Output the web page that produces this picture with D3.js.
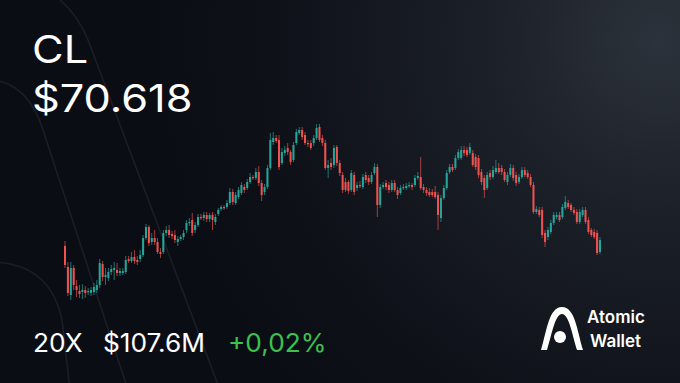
<!DOCTYPE html>
<html>
<head>
<meta charset="utf-8">
<script src="https://cdn.jsdelivr.net/npm/d3@7"></script>
<style>
  html, body { margin: 0; padding: 0; background: #0b0d14; }
  svg { display: block; }
</style>
</head>
<body>
<svg id="chart"></svg>
<script>
// CL daily candles
const opens = [
  70.4,68.3,65.5,68.2,66.4,65.9,65.8,66.0,65.8,65.7, 65.8,66.0,66.5,68.6,67.3,67.2,67.8,68.0,68.0,67.7,
  67.7,67.8,69.1,68.9,69.3,69.0,69.1,69.5,71.2,72.3, 70.8,71.2,70.8,69.8,69.8,71.7,72.0,71.6,71.5,70.8,
  71.1,71.3,72.0,72.7,73.0,72.0,72.5,73.3,73.2,73.5, 73.1,73.5,72.8,73.6,74.1,74.3,74.3,74.7,75.8,74.7,
  75.3,75.7,76.3,76.2,76.8,77.3,77.2,77.8,76.7,75.8, 76.3,78.2,80.8,81.2,81.0,78.7,79.7,80.2,79.8,79.0,
  80.7,81.7,82.0,81.5,80.7,80.7,80.7,81.2,82.3,81.2, 80.7,78.2,78.7,78.5,80.3,78.7,77.5,76.8,76.8,76.0,
  77.5,76.2,76.5,76.3,77.5,77.2,76.8,77.7,78.3,74.5, 76.3,76.7,76.5,76.0,76.7,76.0,75.7,76.2,76.2,76.4,
  76.5,76.5,77.2,77.3,76.3,76.0,75.8,75.8,75.8,75.5, 73.2,75.2,76.2,77.8,78.3,78.2,79.2,79.2,80.0,80.0,
  79.7,79.7,79.3,79.2,77.8,77.2,76.2,77.7,77.3,77.8, 78.2,78.2,77.8,76.8,77.5,78.2,77.5,76.8,77.3,78.0,
  77.7,77.3,76.5,73.8,74.0,74.0,71.7,71.3,71.8,72.7, 73.3,73.5,73.3,74.2,74.7,74.5,74.0,73.8,72.8,73.5,
  74.0,73.0,72.0,71.8,71.7,69.8];
const highs = [
  70.9,68.8,68.8,68.5,67.0,66.5,66.6,66.4,66.2,66.3, 66.7,67.0,69.1,68.9,68.2,68.2,68.5,68.8,68.7,68.2,
  68.2,69.4,69.4,69.8,70.0,69.4,70.0,71.5,72.6,72.5, 71.7,72.0,71.2,70.2,72.0,72.4,72.5,71.9,72.0,71.4,
  71.5,72.0,73.0,73.2,73.7,72.8,73.6,73.6,73.8,73.8, 73.7,73.8,73.6,74.2,74.5,74.5,75.0,76.2,76.1,75.8,
  76.3,76.8,76.6,77.1,77.7,77.5,78.2,78.4,77.0,76.6, 78.5,81.7,81.8,81.5,81.5,80.2,80.4,80.7,80.0,80.8,
  82.1,82.3,82.3,81.8,81.0,81.0,81.5,82.6,82.6,81.5, 81.0,79.0,79.2,80.5,80.5,79.0,77.8,77.2,77.0,78.0,
  77.8,76.8,76.9,77.6,77.8,77.5,77.8,78.7,78.6,76.6, 76.8,77.0,76.8,77.0,77.0,76.3,76.5,76.6,76.7,76.8,
  76.7,77.5,77.8,79.3,76.6,76.3,76.2,76.1,76.4,75.8, 75.5,76.5,78.0,78.6,78.6,79.5,80.1,80.4,80.4,80.3,
  80.7,80.0,79.6,79.5,78.1,77.5,77.8,78.0,78.4,79.0, 78.7,78.5,78.1,77.8,78.6,78.5,77.8,77.6,78.3,78.3,
  78.0,77.6,76.8,74.4,74.3,74.3,72.0,72.3,73.0,73.8, 73.8,73.8,74.6,75.4,75.0,74.7,74.3,74.1,74.1,74.3,
  74.3,73.3,72.2,72.1,72.0,71.3];
const lows = [
  68.2,65.4,65.0,66.0,65.3,65.2,65.1,65.2,65.5,65.4, 65.5,65.7,66.2,66.9,66.5,66.9,67.5,67.0,67.4,67.4,
  67.5,67.6,68.7,68.7,68.6,68.5,68.8,69.3,71.0,70.4, 70.5,70.5,69.6,69.2,69.6,71.4,71.2,71.1,70.7,70.4,
  70.9,71.0,71.7,72.4,71.4,71.7,72.3,73.0,72.9,72.8, 72.8,72.0,72.5,73.4,73.9,74.0,74.1,74.5,74.5,74.5,
  75.1,75.5,75.7,76.0,76.6,77.0,77.0,76.4,74.9,75.5, 76.1,78.0,80.5,80.7,78.0,78.5,79.4,79.5,78.5,78.8,
  80.5,81.5,81.0,80.5,80.3,80.0,80.4,81.0,80.8,80.4, 78.0,77.2,78.0,78.2,78.4,77.4,75.7,75.8,75.6,75.8,
  75.5,75.9,76.2,76.1,76.7,76.5,76.6,77.5,73.3,74.2, 76.1,76.0,75.7,75.8,75.8,75.1,75.5,76.0,76.0,76.2,
  76.0,76.3,77.0,76.0,75.7,75.4,75.3,75.3,75.1,72.0, 72.8,75.0,76.0,77.6,77.8,78.0,79.0,79.0,79.4,79.3,
  79.5,78.3,78.0,77.2,76.5,75.2,76.0,77.0,77.1,77.6, 77.6,77.5,76.8,76.5,77.3,76.9,76.4,76.6,77.1,77.3,
  77.1,76.3,73.6,73.6,73.3,71.2,70.3,71.0,71.6,72.5, 73.1,72.8,73.1,74.0,74.1,73.8,73.5,72.6,72.6,73.3,
  72.6,71.6,71.3,71.1,69.5,69.6];
const closes = [
  68.5,65.7,68.2,66.5,66.0,65.6,66.0,65.7,65.9,66.0, 66.3,66.5,68.7,67.3,67.5,67.8,68.1,68.2,67.7,67.9,
  67.9,69.0,68.9,69.3,68.9,68.8,69.5,71.2,72.3,70.7, 71.2,70.8,69.8,69.6,71.7,72.0,71.5,71.4,71.0,71.1,
  71.3,71.7,72.7,72.8,71.7,72.5,73.3,73.2,73.5,73.1, 73.5,73.0,73.3,74.0,74.3,74.2,74.7,75.8,74.8,75.5,
  76.0,76.5,76.0,76.8,77.3,77.2,77.8,76.7,75.5,76.3, 78.2,81.0,81.2,80.9,78.3,79.8,80.0,79.8,78.8,80.5,
  81.8,82.0,81.3,80.7,80.6,80.2,81.2,82.2,81.0,80.7, 78.2,78.5,78.3,80.2,78.7,77.7,76.0,76.0,75.9,77.7,
  75.8,76.5,76.4,77.3,77.0,76.8,77.5,78.3,74.5,76.3, 76.5,76.3,76.0,76.7,76.0,75.5,76.2,76.3,76.4,76.5,
  76.3,77.2,77.4,76.2,76.0,75.7,75.5,75.5,75.3,73.5, 75.2,76.2,77.7,78.3,78.0,79.2,79.8,80.0,79.7,79.5,
  80.3,78.5,78.3,77.5,76.8,76.0,77.5,77.3,78.0,78.2, 77.8,77.8,77.0,77.5,78.2,77.2,76.7,77.3,78.0,77.5,
  77.3,76.5,73.8,74.1,73.5,71.5,70.8,72.0,72.7,73.5, 73.5,73.0,74.3,74.8,74.3,74.0,73.7,72.8,73.8,74.0,
  72.8,71.8,71.5,71.3,69.7,71.0];

const ticker = 'CL'
const lastPrice = '$70.618'
const leverage = '20X'
const volume = '$107.6M'
const change = '+0,02%'

class CandleChart {
    constructor(_config) {
        this.config = {
            parentElement: _config.parentElement,
            containerWidth: _config.containerWidth || 680,
            containerHeight: _config.containerHeight || 383,
            plot: {left: 64, right: 601, top: 120, bottom: 310}
        }
        this.initVis()
    }

    initVis() {
        let vis = this;

        vis.svg = d3.select(vis.config.parentElement)
            .attr('width', vis.config.containerWidth)
            .attr('height', vis.config.containerHeight)

        const defs = vis.svg.append('defs')
        const glow = defs.append('radialGradient')
            .attr('id', 'glow')
            .attr('gradientUnits', 'userSpaceOnUse')
            .attr('cx', 660).attr('cy', 40).attr('r', 520)
        glow.append('stop').attr('offset', 0).attr('stop-color', '#2c323b')
        glow.append('stop').attr('offset', 0.35).attr('stop-color', '#1b1f27')
        glow.append('stop').attr('offset', 0.75).attr('stop-color', '#0e1118')
        glow.append('stop').attr('offset', 1).attr('stop-color', '#0b0d14')

        vis.svg.append('rect')
            .attr('width', vis.config.containerWidth)
            .attr('height', vis.config.containerHeight)
            .attr('fill', 'url(#glow)')

        // faint arcs of the big logo behind everything
        const arcs = [
            'M -20,80 Q 26,76 43,130 L 128,390',
            'M 30,-20 Q 72,0 88,40 L 220,390',
            'M -10,262 Q 50,262 62,320 L 70,390'
        ]
        vis.svg.append('g')
            .selectAll('path')
            .data(arcs)
            .join('path')
            .attr('d', d => d)
            .attr('fill', 'none')
            .attr('stroke', 'rgba(255,255,255,0.07)')
            .attr('stroke-width', 1.6)

        vis.chart = vis.svg.append('g')
    }

    updateVis() {
        let vis = this;
        const p = vis.config.plot

        vis.x = d3.scaleBand()
            .domain(d3.range(closes.length))
            .range([p.left, p.right])
            .paddingInner(0.3)

        vis.y = d3.scaleLinear()
            .domain([64, 83])
            .range([p.bottom, p.top])

        vis.candles = closes.map((c, i) => ({i, o: opens[i], h: highs[i], l: lows[i], c}))

        vis.renderVis()
    }

    renderVis() {
        let vis = this;
        const up = '#26a69a', down = '#ef5350'
        const col = d => d.c >= d.o ? up : down
        const bw = vis.x.bandwidth()

        // wicks
        vis.chart.append('g')
            .selectAll('line')
            .data(vis.candles)
            .join('line')
            .attr('x1', d => vis.x(d.i) + bw / 2)
            .attr('x2', d => vis.x(d.i) + bw / 2)
            .attr('y1', d => vis.y(d.h))
            .attr('y2', d => vis.y(d.l))
            .attr('stroke', col)
            .attr('stroke-width', 0.8)
            .attr('opacity', 0.85)

        // bodies
        vis.chart.append('g')
            .selectAll('rect')
            .data(vis.candles)
            .join('rect')
            .attr('x', d => vis.x(d.i))
            .attr('width', bw)
            .attr('y', d => vis.y(Math.max(d.o, d.c)))
            .attr('height', d => Math.max(1.2, Math.abs(vis.y(d.o) - vis.y(d.c))))
            .attr('fill', col)

        // labels (the original face is a bit wider than Inter, hence the x stretch)
        const font = 'Inter, "Noto Sans", sans-serif'
        const big = [{t: ticker, y: 63}, {t: lastPrice, y: 112}]
        vis.svg.append('g')
            .selectAll('text')
            .data(big)
            .join('text')
            .attr('transform', d => `translate(32,${d.y}) scale(1.14,1)`)
            .attr('font-family', font).attr('font-size', 38)
            .attr('fill', '#ffffff')
            .text(d => d.t)

        const bottom = [
            {t: leverage, x: 33, c: '#ffffff'},
            {t: volume, x: 103, c: '#ffffff'},
            {t: change, x: 228, c: '#3cc14e'}
        ]
        vis.svg.append('g')
            .selectAll('text')
            .data(bottom)
            .join('text')
            .attr('transform', d => `translate(${d.x},352) scale(1.05,1)`)
            .attr('font-family', font).attr('font-size', 25)
            .attr('fill', d => d.c)
            .text(d => d.t)

        // logo
        const logo = vis.svg.append('g')
        logo.append('path')
            .attr('d', 'M 541,350 C 547,330 549,307 562,307 C 575,307 577,330 583,350 L 577,350 C 572,334 569,314 562,314 C 555,314 552,334 547,350 Z')
            .attr('fill', '#ffffff')
        logo.append('circle')
            .attr('cx', 560).attr('cy', 337).attr('r', 6)
            .attr('fill', '#ffffff')
        logo.selectAll('text')
            .data(['Atomic', 'Wallet'])
            .join('text')
            .attr('x', (d, i) => i ? 590 : 587)
            .attr('y', (d, i) => i ? 347 : 323)
            .attr('font-family', font).attr('font-size', 17).attr('font-weight', 600)
            .attr('fill', '#ffffff')
            .text(d => d)
    }
}

const chart = new CandleChart({parentElement: '#chart'})
chart.updateVis()
</script>
</body>
</html>
